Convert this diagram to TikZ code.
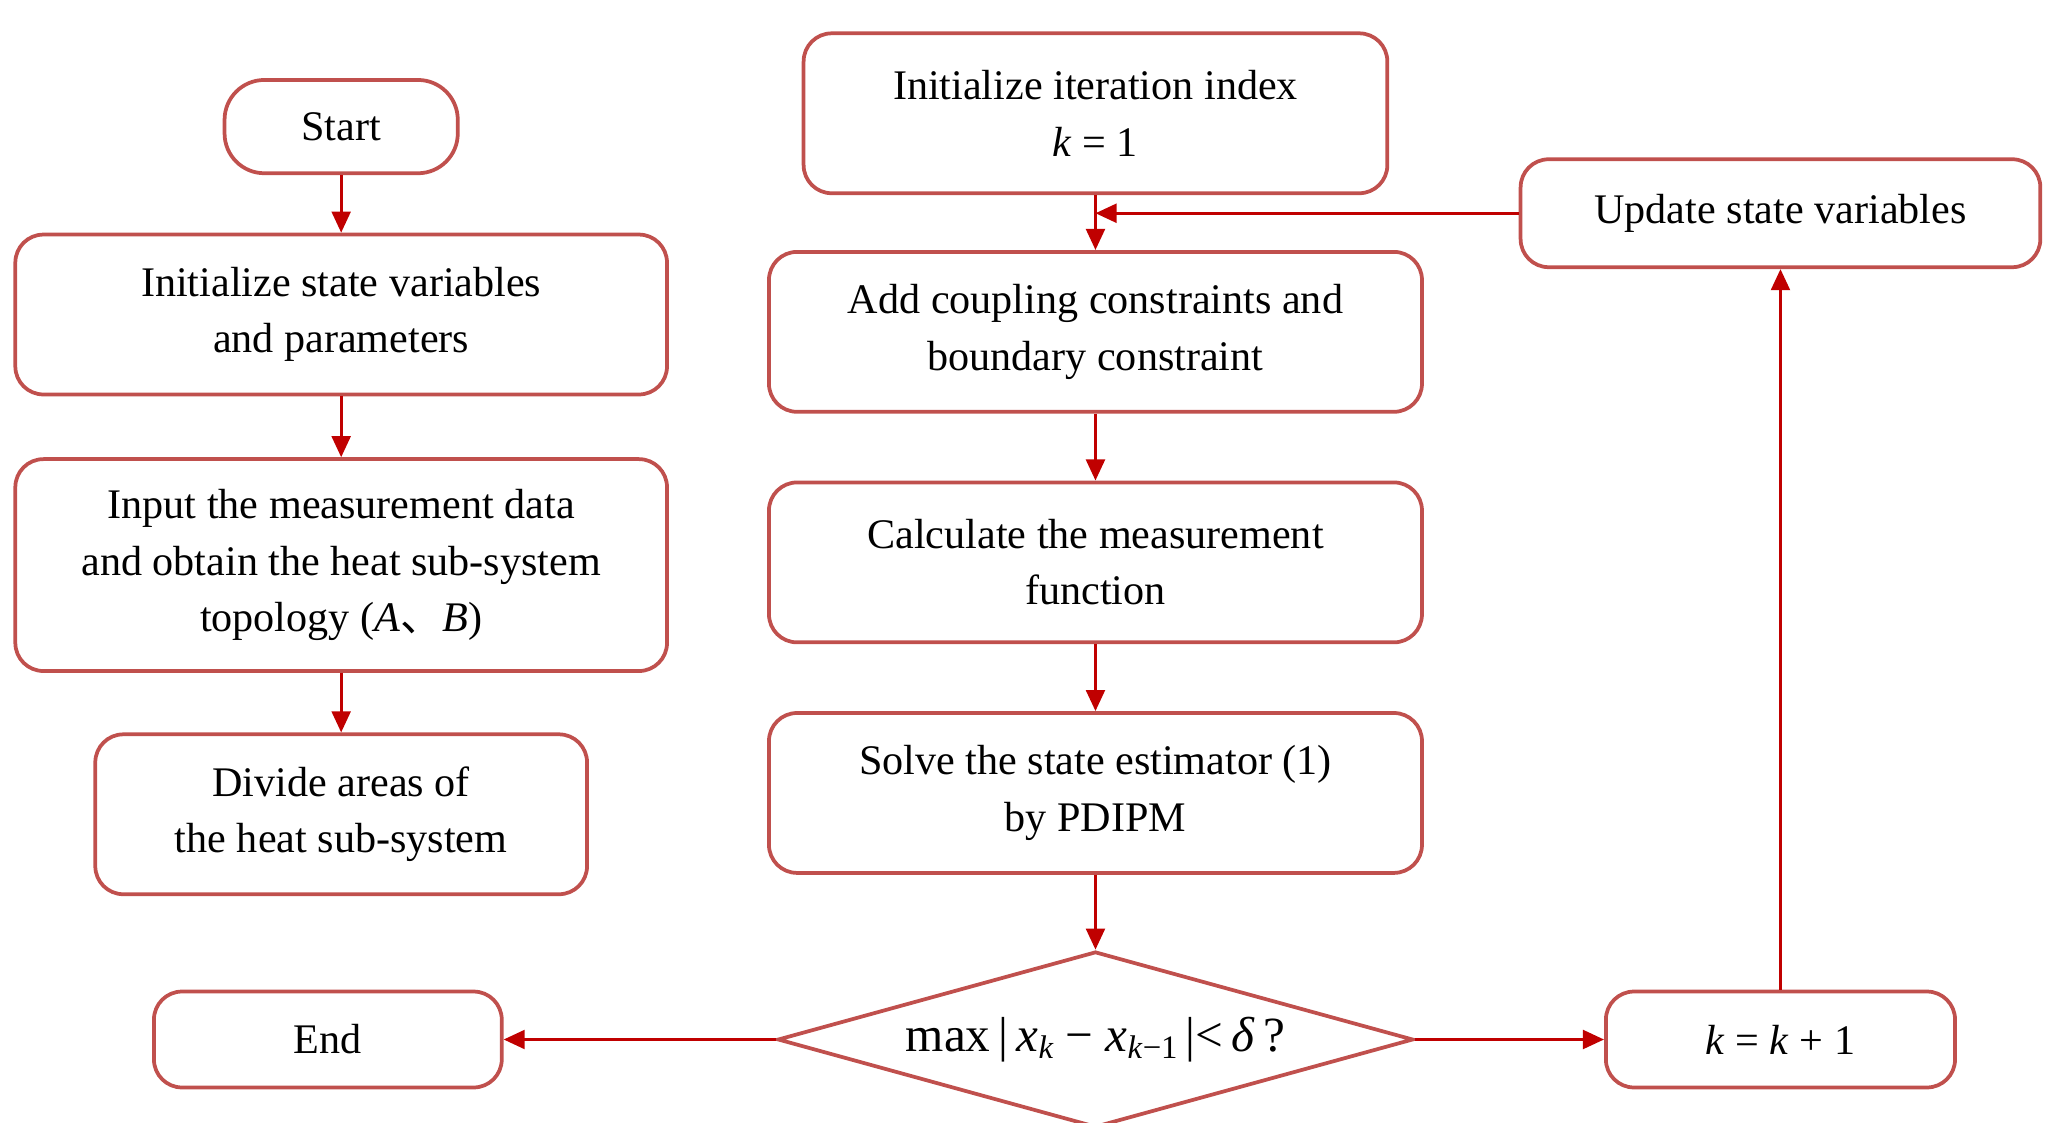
\documentclass[tikz,border=0pt]{standalone}
\usepackage{fontspec}
\setmainfont{Liberation Serif}
\newfontfamily\cjk{Noto Sans CJK SC}
\usetikzlibrary{shapes.geometric,arrows.meta}
\definecolor{bd}{RGB}{192,80,77}
\definecolor{ar}{RGB}{192,0,0}
\begin{document}
\begin{tikzpicture}[x=0.02cm,y=-0.02cm,
 box/.style={draw=bd,line width=1.6pt,rounded corners=12pt,align=center,font=\fontsize{18}{24}\selectfont,inner sep=0pt},
 arr/.style={draw=ar,line width=1.3pt,-{Triangle[length=9pt,width=8pt]}}]
\useasboundingbox (0,0) rectangle (1545,842);
\newcommand{\bx}[6]{\node[box,minimum width=#4*0.02cm,minimum height=#5*0.02cm] (#1) at (#2,#3) {#6};}
\node[box,rounded corners=17pt,minimum width=175*0.02cm,minimum height=70*0.02cm] (start) at (256,95) {Start};
\bx{init}{256}{236}{489}{120}{Initialize state variables\\and parameters}
\bx{input}{256}{424}{489}{159}{Input the measurement data\\and obtain the heat sub-system\\topology (\textit{A}{\cjk 、}\textit{B})}
\bx{divide}{256}{611}{369}{120}{Divide areas of\\the heat sub-system}
\bx{endn}{246}{780}{261}{72}{End}
\bx{iter}{822}{85}{438}{120}{Initialize iteration index\\\textit{k} = 1}
\bx{add}{822}{249}{490}{120}{Add coupling constraints and\\boundary constraint}
\bx{calc}{822}{422}{490}{120}{Calculate the measurement\\function}
\bx{solve}{822}{595}{490}{120}{Solve the state estimator (1)\\by PDIPM}
\bx{kk}{1336}{780}{262}{72}{\textit{k} = \textit{k} + 1}
\bx{upd}{1336}{160}{390}{81}{Update state variables}
\node[draw=bd,line width=1.6pt,diamond,aspect=3.6,minimum width=477*0.02cm,minimum height=132*0.02cm,inner sep=0pt,font=\fontsize{21}{24}\selectfont] (dia) at (822,780) {max\,|\,\textit{x}\raisebox{-0.3ex}{\fontsize{14}{14}\selectfont\textit{k}} − \textit{x}\raisebox{-0.3ex}{\fontsize{14}{14}\selectfont\textit{k}−1}\,|<\,\textit{δ}\,?};
\coordinate (m) at (822,160);
\draw[arr] (start) -- (init);
\draw[arr] (init) -- (input);
\draw[arr] (input) -- (divide);
\draw[arr] (iter) -- (add);
\draw[arr] (add) -- (calc);
\draw[arr] (calc) -- (solve);
\draw[arr] (solve) -- (dia);
\draw[arr] (dia) -- (endn);
\draw[arr] (dia) -- (kk);
\draw[arr] (kk) -- (upd);
\draw[arr] (upd) -- (m);
\end{tikzpicture}
\end{document}
